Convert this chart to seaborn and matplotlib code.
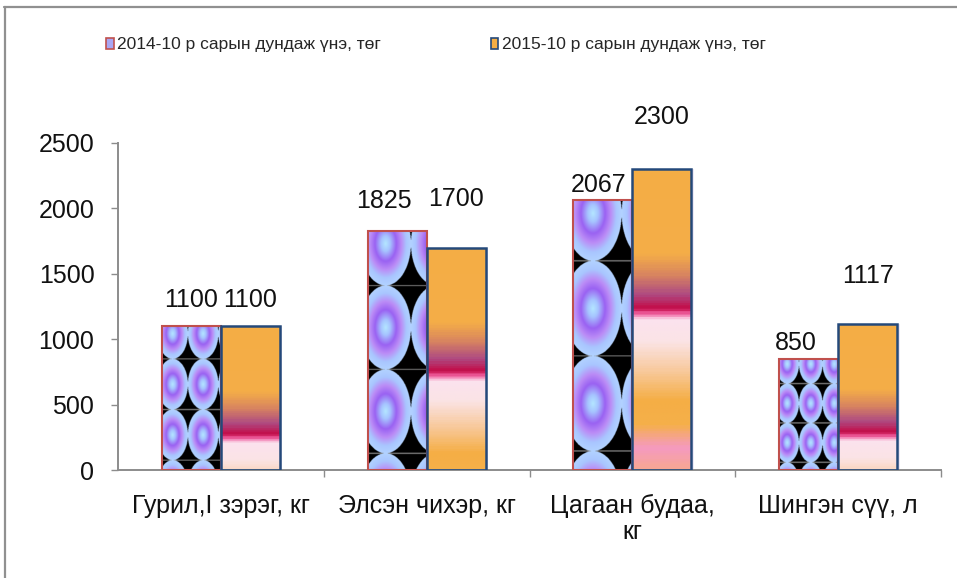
import numpy as np
import pandas as pd
import matplotlib
matplotlib.use("Agg")
import matplotlib.pyplot as plt
from matplotlib.colors import LinearSegmentedColormap, to_rgb
from matplotlib.patches import Patch
from matplotlib.lines import Line2D
import seaborn as sns

# --- data -------------------------------------------------------------
categories = ["Гурил,I зэрэг, кг", "Элсэн чихэр, кг", "Цагаан будаа,\nкг", "Шингэн сүү, л"]
series_names = ["2014-10 р сарын дундаж үнэ, төг", "2015-10 р сарын дундаж үнэ, төг"]
prices_2014 = [1100, 1825, 2067, 850]
prices_2015 = [1100, 1700, 2300, 1117]
y_ticks = [0, 500, 1000, 1500, 2000, 2500]

df = pd.DataFrame({
    "category": categories * 2,
    "series": [series_names[0]] * 4 + [series_names[1]] * 4,
    "value": prices_2014 + prices_2015,
})

# --- style ------------------------------------------------------------
sns.set_theme(style="white")
plt.rcParams["font.family"] = ["Liberation Sans", "DejaVu Sans"]
GRAY = "#8c8c8c"
EDGE_1 = "#c0504d"
EDGE_2 = "#24497a"
ORANGE = "#f5ae45"
TEXT = "#111111"

W, H, DPI = 957, 578, 100
fig = plt.figure(figsize=(W / DPI, H / DPI), dpi=DPI)
ax = fig.add_axes([118 / W, 1 - 470 / H, (941 - 118) / W, (470 - 143) / H])

sns.barplot(data=df, x="category", y="value", hue="series", order=categories,
            hue_order=series_names, width=0.573, palette=["#a8a8f0", ORANGE],
            saturation=1, legend=False, ax=ax, zorder=2)

ax.set_ylim(0, 2500)
ax.set_xlim(-0.5, 3.5)
ax.set_yticks(y_ticks)
ax.set_xlabel("")
ax.set_ylabel("")
for side in ("top", "right"):
    ax.spines[side].set_visible(False)
for side in ("left", "bottom"):
    ax.spines[side].set_color(GRAY)
    ax.spines[side].set_linewidth(1.4)
ax.tick_params(axis="y", length=5, width=1.0, color=GRAY, labelsize=18, pad=12,
               direction="out", left=True)
ax.set_xticks([0.5, 1.5, 2.5, 3.5], minor=True)
ax.tick_params(axis="x", which="major", length=0, labelsize=18, pad=17)
ax.tick_params(axis="x", which="minor", length=5, width=1.0, color=GRAY,
               direction="out", bottom=True)
ax.set_xticks(range(4))
ax.set_xticklabels(categories, linespacing=1.12)
for lbl in ax.get_yticklabels() + ax.get_xticklabels():
    lbl.set_color(TEXT)

# --- fills ------------------------------------------------------------
px_per_unit = (470 - 143) / 2500.0


def circle_tiles(width_px, height_px):
    """Tiled ellipses with a radial lilac/blue gradient on black."""
    ss = 3
    nx, ny = max(int(width_px * ss), 4), max(int(height_px * ss), 4)
    tile_h = height_px / 2.85
    tile_w = tile_h * 0.6
    xs = (np.arange(nx) + 0.5) / ss
    ys = (np.arange(ny) + 0.5) / ss          # measured from the top
    X, Y = np.meshgrid(xs, ys)
    u = ((X + 0.15 * tile_w) / tile_w) % 1.0
    v = ((Y + 0.35 * tile_h) / tile_h) % 1.0
    r = np.sqrt(((u - 0.5) / 0.5) ** 2 + ((v - 0.5) / 0.5) ** 2)
    cmap = LinearSegmentedColormap.from_list("rings", [
        (0.00, "#b4e6ff"), (0.18, "#a6c4ff"), (0.42, "#9a62f2"),
        (0.62, "#bb8cf6"), (0.82, "#a9c6ff"), (1.00, "#b2d2ff")])
    img = cmap(np.clip(r, 0, 1))[..., :3]
    img[r > 1.0] = 0.0
    edge = (np.abs(v - 0.0) < 0.6 / tile_h) | (np.abs(v - 1.0) < 0.6 / tile_h)
    img[edge & (r > 1.0)] = to_rgb("#7a7a7a")
    return img


grad_cmap = LinearSegmentedColormap.from_list("sunset", [
    (0.000, "#f5ae45"), (0.120, "#f4ad48"), (0.150, "#d88460"),
    (0.178, "#ae4a82"), (0.198, "#c40c48"), (0.205, "#f060a0"),
    (0.214, "#fbe2ee"), (0.245, "#fbe4e6"), (0.290, "#f8c898"),
    (0.330, "#f5ae45"), (0.365, "#f5b04a"), (0.398, "#f59ac0"),
    (0.430, "#f8a890"), (1.000, "#f8a890")])
GRAD_FLOOR = -3040.0

for bar in ax.containers[0]:
    x0, w, h = bar.get_x(), bar.get_width(), bar.get_height()
    img = circle_tiles(w * (941 - 118) / 4.0, h * px_per_unit)
    im = ax.imshow(img, extent=(x0, x0 + w, 0, h), aspect="auto",
                   interpolation="bilinear", zorder=2.5)
    im.set_clip_path(bar)
    bar.set_facecolor("none")
    bar.set_edgecolor(EDGE_1)
    bar.set_linewidth(1.5)
    bar.set_zorder(3)

for bar in ax.containers[1]:
    x0, w, h = bar.get_x(), bar.get_width(), bar.get_height()
    t = np.linspace(0, 1, 600)[:, None]
    img = grad_cmap(np.repeat(t, 4, axis=1))[..., :3]
    # soft shadow to the right of the bar
    ax.add_patch(plt.Rectangle((x0 + 0.012, 0), w, h, facecolor="#d8d0ec",
                               edgecolor="none", alpha=0.45, zorder=1.8))
    im = ax.imshow(img, extent=(x0, x0 + w, GRAD_FLOOR, h), aspect="auto",
                   interpolation="bilinear", zorder=2.5)
    im.set_clip_path(bar)
    bar.set_facecolor("none")
    bar.set_edgecolor(EDGE_2)
    bar.set_linewidth(1.8)
    bar.set_zorder(3)

ax.set_ylim(0, 2500)
ax.set_xlim(-0.5, 3.5)

# --- value labels -----------------------------------------------------
label_shift_1 = [(0, 26), (-13, 30), (-4, 15), (-13, 16)]
label_shift_2 = [(0, 26), (0, 49), (0, 52), (0, 48)]
for bars, vals, shifts in ((ax.containers[0], prices_2014, label_shift_1),
                           (ax.containers[1], prices_2015, label_shift_2)):
    for bar, val, (dx, dy) in zip(bars, vals, shifts):
        ax.annotate(f"{val}", xy=(bar.get_x() + bar.get_width() / 2, val),
                    xytext=(dx * 0.72, dy * 0.72), textcoords="offset points",
                    ha="center", va="center", fontsize=18, color=TEXT,
                    zorder=5, annotation_clip=False)

# --- legend -----------------------------------------------------------
handles = [Patch(facecolor="#a9a6f2", edgecolor=EDGE_1, linewidth=1.2),
           Patch(facecolor=ORANGE, edgecolor=EDGE_2, linewidth=1.2)]
fig.legend(handles, series_names, loc="center left",
           bbox_to_anchor=(106 / W, 1 - 45 / H), ncol=2, frameon=False,
           fontsize=12.5, handlelength=0.45, handleheight=0.6, handletextpad=0.2,
           columnspacing=6.3, borderaxespad=0, borderpad=0)

# --- chart-area frame (top and left edges) ----------------------------
fig.add_artist(Line2D([4 / W, 1.0], [1 - 7 / H, 1 - 7 / H], color="#909090",
                      linewidth=1.6, transform=fig.transFigure))
fig.add_artist(Line2D([4.5 / W, 4.5 / W], [0.0, 1 - 7 / H], color="#909090",
                      linewidth=1.6, transform=fig.transFigure))

fig.savefig("out.png", dpi=DPI, facecolor="white")
